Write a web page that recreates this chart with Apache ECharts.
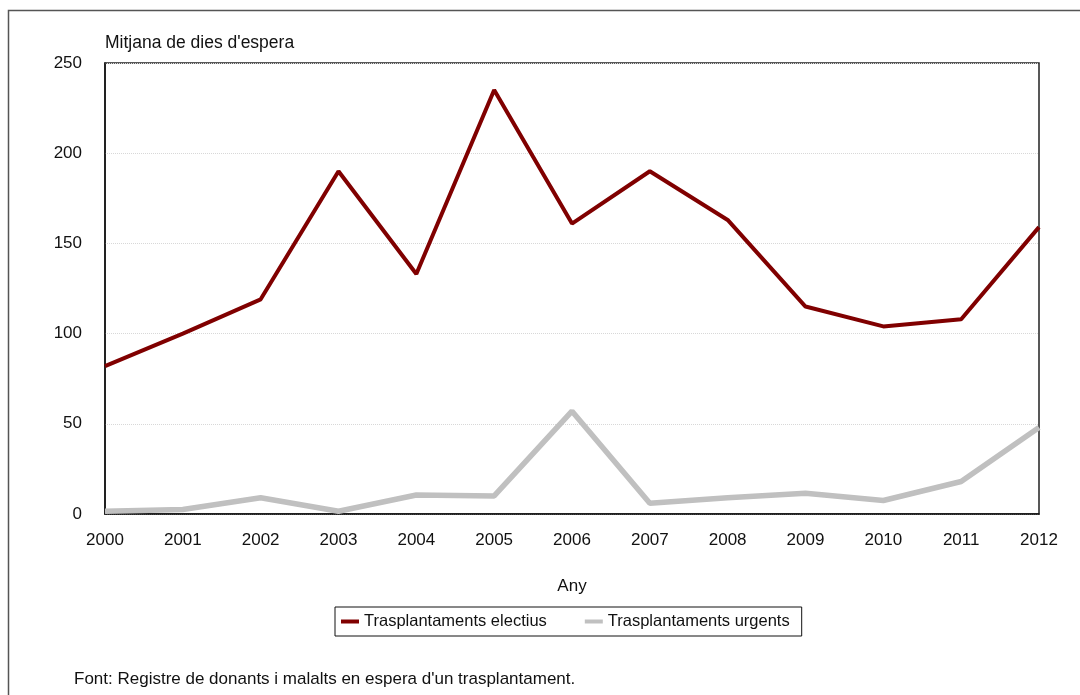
<!DOCTYPE html>
<html>
<head>
<meta charset="utf-8">
<script src="https://cdn.jsdelivr.net/npm/echarts@6/dist/echarts.min.js"></script>
<style>
  html, body { margin: 0; padding: 0; background: #fff; }
  #chart { width: 1080px; height: 695px; }
</style>
</head>
<body>
<div id="chart"></div>
<script>
// dades llegides del gràfic
const years = ['2000', '2001', '2002', '2003', '2004', '2005', '2006', '2007', '2008', '2009', '2010', '2011', '2012']
const electius = [82, 100, 119, 190, 133, 235, 161, 190, 163, 115, 104, 108, 159]
const urgents = [1.5, 2.5, 9, 1.5, 10.5, 10, 57, 6, 9, 11.5, 7.5, 18, 48]
const yTicks = [0, 50, 100, 150, 200, 250]

const font = "'Liberation Sans Narrow', 'Liberation Sans', Arial, sans-serif"

const chart = echarts.init(document.getElementById('chart'))

chart.setOption({
  animation: false,
  textStyle: { fontFamily: font, color: '#111' },
  graphic: [
    {
      type: 'rect',
      shape: { x: 8.5, y: 10.5, width: 1100, height: 720 },
      style: { fill: 'none', stroke: '#555', lineWidth: 1.5 },
      silent: true
    }
  ],
  title: {
    text: "Font: Registre de donants i malalts en espera d'un trasplantament.",
    left: 69,
    top: 666,
    textStyle: { fontFamily: font, fontSize: 17, fontWeight: 'normal', color: '#111' }
  },
  grid: {
    left: 105,
    right: 41,
    top: 63,
    bottom: 181,
    show: true,
    borderColor: '#222',
    borderWidth: 1.5,
    containLabel: false
  },
  legend: {
    top: 607,
    left: 335,
    padding: [6, 12, 6, 6],
    borderColor: '#111',
    borderWidth: 1,
    icon: 'rect',
    itemWidth: 18,
    itemHeight: 4,
    itemGap: 38,
    textStyle: { fontFamily: font, fontSize: 16.5, color: '#111' },
    data: ['Trasplantaments electius', 'Trasplantaments urgents']
  },
  xAxis: {
    type: 'category',
    data: years,
    boundaryGap: false,
    name: 'Any',
    nameLocation: 'middle',
    nameGap: 64,
    nameTextStyle: { fontFamily: font, fontSize: 17, color: '#111' },
    axisLine: { lineStyle: { color: '#111', width: 1.5 } },
    axisTick: { show: false },
    axisLabel: { fontFamily: font, fontSize: 17, color: '#111', margin: 18 }
  },
  yAxis: {
    type: 'value',
    min: yTicks[0],
    max: yTicks[yTicks.length - 1],
    interval: 50,
    name: "Mitjana de dies d'espera",
    nameLocation: 'end',
    nameGap: 11,
    nameTextStyle: { fontFamily: font, fontSize: 17.5, color: '#111', align: 'left', padding: [0, 0, 0, 0] },
    axisLine: { show: true, lineStyle: { color: '#111', width: 1.5 } },
    axisTick: { show: false },
    axisLabel: { fontFamily: font, fontSize: 17, color: '#111', margin: 23 },
    splitLine: { lineStyle: { color: '#d8d8d8', type: 'dotted', width: 1 } }
  },
  series: [
    {
      name: 'Trasplantaments electius',
      type: 'line',
      data: electius,
      symbol: 'none',
      lineStyle: { color: '#800000', width: 4 },
      itemStyle: { color: '#800000' }
    },
    {
      name: 'Trasplantaments urgents',
      type: 'line',
      data: urgents,
      symbol: 'none',
      lineStyle: { color: '#c0c0c0', width: 5.5 },
      itemStyle: { color: '#c0c0c0' }
    }
  ]
})
</script>
</body>
</html>
